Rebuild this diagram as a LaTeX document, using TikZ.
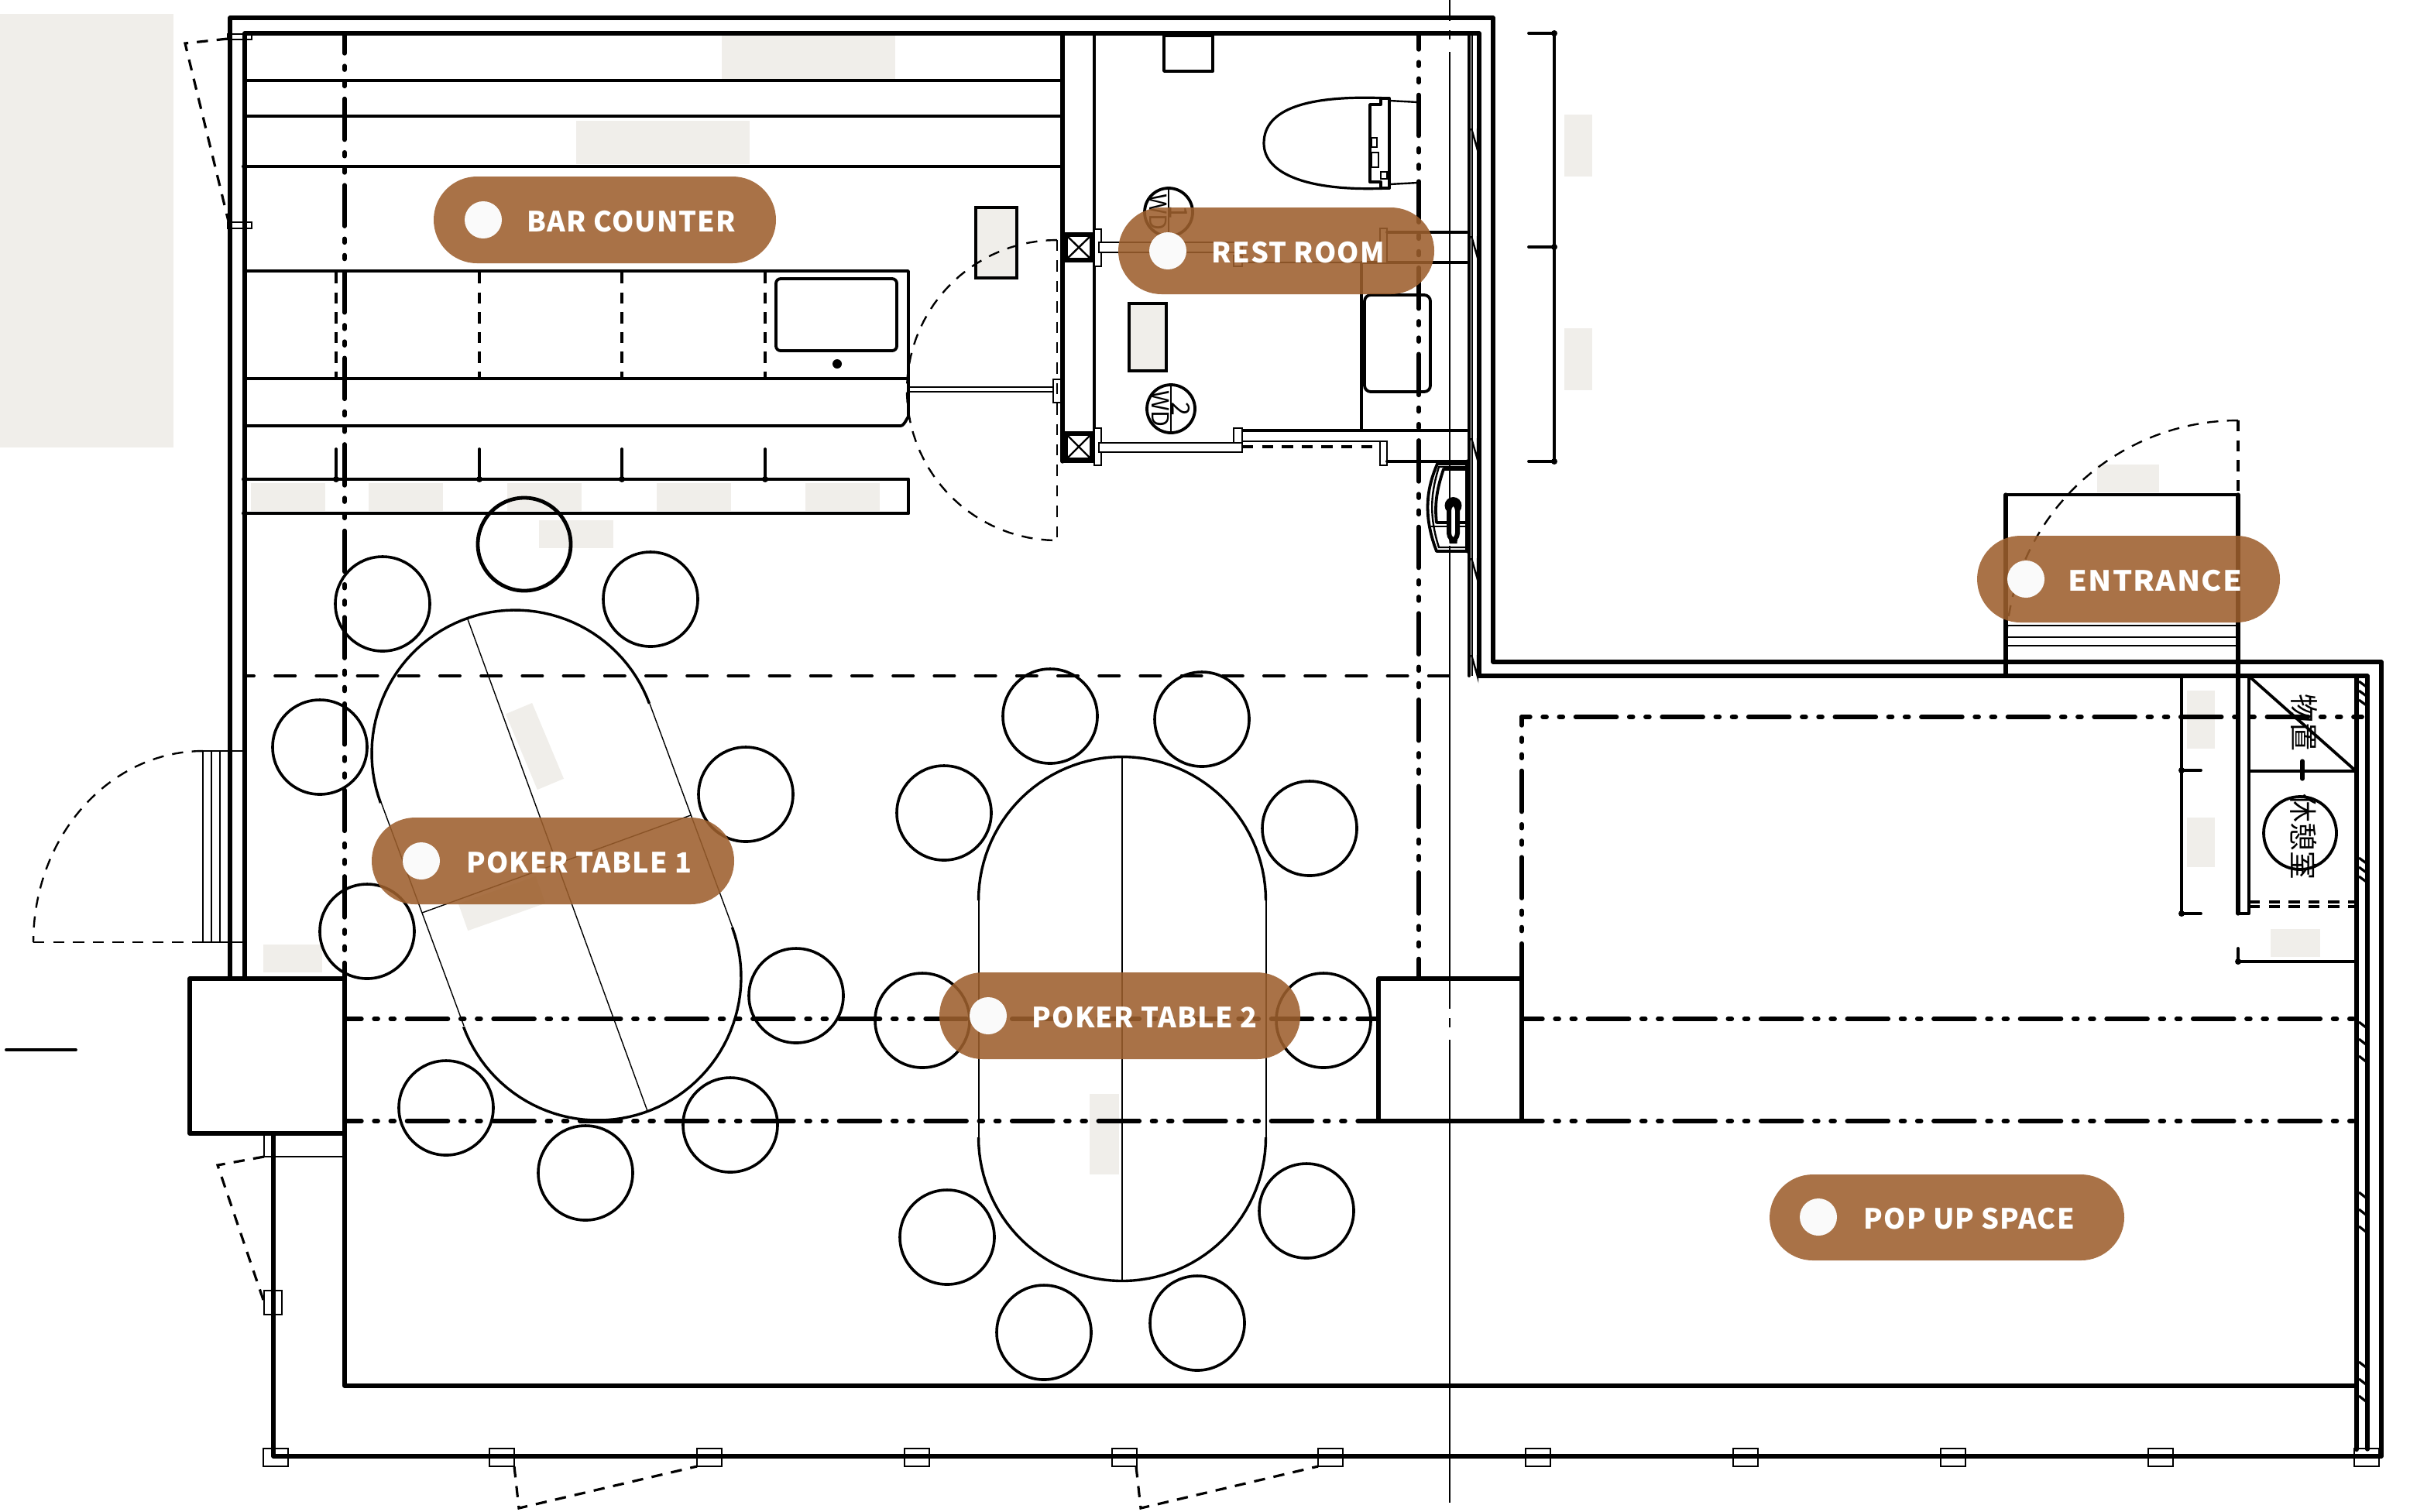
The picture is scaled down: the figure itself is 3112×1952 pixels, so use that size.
\documentclass[tikz,border=0pt]{standalone}
\usepackage{fontspec}
\setmainfont{Noto Sans}
\newfontfamily\lab[LetterSpace=3]{Noto Sans CJK JP}
\newfontfamily\cjk{Noto Sans CJK JP}
\definecolor{beige}{HTML}{F0EEEA}
\definecolor{pillc}{HTML}{9D5F2D}
\definecolor{dotc}{HTML}{FAFAFA}
\tikzset{
 wall/.style={line width=1.3pt,line cap=round,line join=round},
 med/.style={line width=.95pt,line cap=round,line join=round},
 thinl/.style={line width=.6pt},
 hair/.style={line width=.35pt},
 ddot/.style={line width=1.45pt,line cap=round,dash pattern=on 13.2pt off 4.1pt on 1.2pt off 4.1pt on 1.2pt off 4.1pt},
 dashl/.style={line width=.55pt,dash pattern=on 3.6pt off 3pt},
 dashm/.style={line width=.8pt,dash pattern=on 3.6pt off 2.8pt},
 hdash/.style={line width=1pt,line cap=round,dash pattern=on 6.5pt off 6.8pt,dash phase=3.5pt},
 centre/.style={line width=.3pt,dash pattern=on 149.5pt off 3pt on 3pt off 4pt,dash phase=142.75pt},
 chair/.style={line width=.9pt},
 bg/.style={fill=beige,draw=none},
 post/.style={line width=.6pt,draw=black,fill=white},
 pillbody/.style={fill=pillc,fill opacity=.88,rounded corners=13.99pt},
 pilltext/.style={text=white,font=\lab\bfseries\fontsize{9}{11}\selectfont,anchor=base west,inner sep=0pt},
 cjktext/.style={font=\cjk\fontsize{9.2}{10}\selectfont,rotate=-90,inner sep=0pt},
}
\newcommand{\pill}[9]{%
 \fill[pillbody] (#1,#2) rectangle (#3,#4);
 \fill[dotc] (#5,#6) circle (24);
 \node[pilltext] (#9) at (#7,#6+15) {#8};}
\begin{document}
\begin{tikzpicture}[x=.25pt,y=-.25pt]
\useasboundingbox (0,0) rectangle (3112,1952);
% beige patches
\fill[bg] (0,18) rectangle (224,578);
\fill[bg] (932,42) rectangle (1156,102);
\fill[bg] (744,156) rectangle (968,212);
\fill[bg] (324,624) rectangle (420,660);
\fill[bg] (476,624) rectangle (572,660);
\fill[bg] (655,624) rectangle (751,660);
\fill[bg] (848,624) rectangle (944,660);
\fill[bg] (1040,624) rectangle (1136,660);
\fill[bg] (696,672) rectangle (792,708);
\fill[bg] (2020,148) rectangle (2056,228);
\fill[bg] (2020,424) rectangle (2056,504);
\fill[bg] (2708,600) rectangle (2788,636);
\fill[bg] (2824,892) rectangle (2860,967);
\fill[bg] (2824,1056) rectangle (2860,1120);
\fill[bg] (2932,1200) rectangle (2996,1236);
\fill[bg] (340,1220) rectangle (416,1256);
\fill[bg] (1407,1413) rectangle (1445,1517);
\fill[bg,shift={(690.5,964)},rotate=22.7] (-18.5,-53) rectangle (18.5,53);
\fill[bg,shift={(648,1167)},rotate=19.5] (-53,-18.5) rectangle (53,18.5);
% centre line
\draw[centre] (1872,0) -- (1872,1952);
% outer walls
\draw[wall] (297,1264) -- (297,23) -- (1928,23) -- (1928,855) -- (3075,855) -- (3075,1881) -- (353,1881) -- (353,1464);
\draw[wall] (316,1264) -- (316,43) -- (1910,43) -- (1910,873) -- (3057,873) -- (3057,1872);
\draw[wall,line width=1.6pt] (3043,873) -- (3043,1872);
\draw[med] (1897,43) -- (1897,873);
\draw[thinl] (1901,43) -- (1901,873);
% bar lines
\foreach \y in {104,150,215} \draw[med] (316,\y) -- (1372,\y);
\draw[med] (316,350) -- (1173,350) -- (1173,540) to[out=90,in=0] (1163,550) -- (316,550);
\draw[med] (316,489) -- (1173,489);
\draw[med] (316,619) -- (1173,619);
\draw[med] (316,663) -- (1173,663);
\draw[med] (1173,619) -- (1173,663);
\foreach \x in {434,619,803,988} {
  \draw[dashm,line width=1pt] (\x,352) -- (\x,489);
  \draw[med] (\x,580) -- (\x,619);
  \fill (\x,619) circle (4);
}
\fill (316,215) circle (4);
\fill (316,619) circle (4);
\fill (316,663) circle (4);
\draw[med,rounded corners=1.5pt] (1002,360) rectangle (1158,453);
\fill (1081,470) circle (6);
% small door top left
\draw[thinl] (294,44) rectangle (325,51);
\draw[thinl] (294,287) rectangle (325,295);
\draw[dashm] (294,50) -- (239,56) -- (296,290);
% bar door
\draw[thinl,fill=beige,line width=.8pt] (1260,268) rectangle (1313,359);
\draw[thinl] (1173,500) -- (1362,500);
\draw[thinl] (1173,506) -- (1362,506);
\draw[post] (1360,490) rectangle (1370,520);
\draw[dashl] (1365,310) -- (1365,698);
\draw[dashm,line width=.6pt,domain=-90:90,samples=50] plot ({1365-194*cos(\x)},{504+194*sin(\x)});
% partition
\draw[wall] (1372,43) -- (1372,596);
\draw[med] (1413,43) -- (1413,596);
\draw[med] (1372,596) -- (1413,596);
\foreach \y/\h in {303/33,560/34} {
  \draw[wall,line join=miter] (1376,\y) rectangle (1410,\y+\h);
  \draw[thinl] (1376,\y) -- (1410,\y+\h) (1376,\y+\h) -- (1410,\y);
}
\draw[post] (1413,296) rectangle (1422,344);
\draw[post] (1413,553) rectangle (1422,601);
% rest room
\draw[med] (1503,46) rectangle (1566,92);
\draw[line width=.8pt] (1794,127) .. controls (1690,122) and (1632,140) .. (1632,185) .. controls (1632,225) and (1690,248) .. (1794,243);
\draw[thinl] (1794,130) -- (1831,132) (1794,238) -- (1831,236);
\draw[med] (1769,135) -- (1783,135) -- (1783,127) -- (1794,127) -- (1794,243) -- (1783,243) -- (1783,235) -- (1769,235) -- cycle;
\draw[thinl] (1771,178) rectangle (1778,190) (1771,197) rectangle (1780,216) (1783,222) rectangle (1791,231);
\foreach \c/\n in {(1509,274)/1,(1512,528)/2} {
  \draw[med] \c circle (31);
  \draw[thinl] \c ++(0,-31) -- ++(0,62);
  \path \c ++(-13,0) node[cjktext,font=\cjk\fontsize{7.6}{8}\selectfont] {WD};
  \path \c ++(13,0) node[cjktext,font=\cjk\fontsize{8}{8}\selectfont] {\n};
}
\draw[thinl,fill=beige,line width=.9pt] (1458,392) rectangle (1506,479);
\draw[med,rounded corners=2pt] (1762,381) rectangle (1847,506);
\draw[med] (1758,339) -- (1758,556);
\draw[med] (1604,556) -- (1894,556);
\draw[thinl] (1604,570) -- (1782,570);
\draw[dashm] (1604,577) -- (1782,577);
\draw[post] (1419,572) rectangle (1604,584);
\draw[post] (1593,553) rectangle (1604,572);
\draw[post] (1782,570) rectangle (1791,601);
\draw[med] (1791,596) -- (1894,596);
\draw[post] (1419,313) rectangle (1604,326);
\draw[thinl] (1593,330) rectangle (1604,344);
\draw[thinl] (1604,339) -- (1758,339);
\draw[med] (1759,339) -- (1894,339);
\draw[post] (1782,295) rectangle (1791,340);
\draw[med] (1791,300) -- (1894,300);
% z marks on wall
\foreach \y in {180,319,580,735,860} \draw[thinl] (1900,\y-14) -- (1908,\y+14) -- (1908,\y-14);
% basin
\draw[med] (1895,599) -- (1856,599) .. controls (1845,625) and (1835,660) .. (1855,712) -- (1895,712);
\draw[thinl] (1892,603) -- (1858,603) .. controls (1850,630) and (1843,660) .. (1858,707) -- (1892,707);
\draw[med] (1892,606) -- (1864,606) .. controls (1856,630) and (1852,650) .. (1855,675) -- (1892,675);
\draw[thinl] (1848,680) -- (1892,680);
\fill (1876.5,653) circle (11);
\draw[line width=1.5pt,fill=white,rounded corners=2.6pt] (1871,649) rectangle (1882,699);
\draw[wall] (1895,596) -- (1895,712);
% dimension
\draw[med] (2007,43) -- (2007,596);
\foreach \y in {43,319,596} { \draw[med] (1974,\y) -- (2007,\y); \fill (2007,\y) circle (4);}
% long dash-dot
\draw[ddot,dash phase=6.75pt] (445,43) -- (445,1264);
\draw[ddot,dash phase=8pt] (1832,43) -- (1832,1264);
\draw[hdash] (316,873) -- (1895,873);
\draw[ddot,dash phase=10.5pt] (1965,926) -- (3050,926);
\draw[ddot,dash phase=10.5pt] (1965,926) -- (1965,1264);
\draw[ddot,dash phase=6.5pt] (1780,1316) -- (445,1316);
\draw[ddot,dash phase=6.5pt] (1780,1448) -- (445,1448);
\draw[ddot,dash phase=6.5pt] (1965,1316) -- (3050,1316);
\draw[ddot,dash phase=6.5pt] (1965,1448) -- (3050,1448);
% boxes
\draw[wall] (245,1264) rectangle (445,1464);
\draw[wall] (445,1464) -- (445,1790) -- (3043,1790);
\draw[wall] (1780,1264) rectangle (1965,1448);
\draw[med] (8,1356) -- (98,1356);
% window left
\draw[thinl] (262,970) rectangle (315,1217);
\draw[thinl] (273,970) -- (273,1217) (284,970) -- (284,1217);
\draw[dashm,line width=.6pt,domain=0:90,samples=40] plot ({262-219*sin(\x)},{1217-247*cos(\x)});
\draw[dashm,line width=.6pt] (43,1217) -- (262,1217);
% bottom left door
\draw[thinl] (341,1464) -- (341,1494) (341,1494) -- (445,1494);
\draw[dashm] (341,1494) -- (281,1505) -- (341,1682);
\draw[thinl] (341,1667) rectangle (364,1698);
% bottom columns
\foreach \x in {340,632,900,1168,1436,1702,1970,2238,2506,2774,3040} \draw[thinl] (\x,1871) rectangle (\x+32,1894);
\draw[dashm] (664,1894) -- (670,1948) -- (900,1894);
\draw[dashm] (1467,1894) -- (1473,1948) -- (1702,1894);
% hatch
\foreach \y in {1320,1342,1364,1540,1562,1584,1759,1781,1803} \draw[thinl,line width=.8pt] (3046,\y) -- (3055,\y+7);
\draw[thinl,line width=.8pt] (3046,880) -- (3057,888) (3046,892) -- (3057,900) (3046,904) -- (3057,912);
\draw[thinl,line width=.8pt] (3046,1108) -- (3057,1116) (3046,1120) -- (3057,1128) (3046,1132) -- (3057,1140);
% entrance
\draw[med] (2590,639) -- (2890,639);
\draw[wall] (2590,639) -- (2590,873) (2890,639) -- (2890,1180);
\foreach \y in {808,823,834} \draw[thinl] (2590,\y) -- (2890,\y);
\draw[dashm] (2890,543) -- (2890,639);
\draw[dashm,line width=.6pt,domain=0:90,samples=40] plot ({2890-300*sin(\x)},{843-300*cos(\x)});
% rooms right
\draw[med] (2817,873) -- (2817,1180);
\draw[med] (2817,995) -- (2842,995) (2817,1180) -- (2842,1180);
\fill (2817,995) circle (4); \fill (2817,1180) circle (4);
\draw[med] (2904,873) -- (2904,1180) -- (2890,1180);
\draw[med] (2907,876) -- (3040,994);
\draw[med] (2904,996) -- (3040,996);
\draw[wall] (2973,983) -- (2973,1006);
\draw[med] (2970,1076) circle (47);
\draw[dashm] (2904,1165) -- (3040,1165) (2904,1171) -- (3040,1171);
\draw[med] (2890,1225) -- (2890,1242) -- (3043,1242);
\fill (2890,1242) circle (4);
\node[cjktext] (store) at (2975,933) {物置};
\node[cjktext] (rest) at (2975,1081) {休憩室};
% poker table 1
\draw[hair] (604,800) -- (836,1435);
\draw[hair] (545,1179) -- (892,1053);
\draw[hair] (492,1036) -- (599,1325) (839,909) -- (946,1198);
\draw[line width=.85pt,domain=-200.3:-20.3,samples=60] plot ({665+185*cos(\x)},{973+185*sin(\x)});
\draw[line width=.85pt,domain=-20.3:159.7,samples=60] plot ({772+185*cos(\x)},{1262+185*sin(\x)});
\foreach \c in {(840,774),(494,780),(413,965),(963,1026),(1028,1286),(474,1203),(576,1431),(756,1515),(943,1453)} \draw[chair] \c circle (61);
\draw[line width=1.2pt] (677,703) circle (60);
% poker table 2
\draw[hair] (1449,978) -- (1449,1654);
\draw[hair] (1264,1163) -- (1264,1469) (1635,1163) -- (1635,1469);
\draw[line width=.85pt,domain=-180:0,samples=60] plot ({1449+185.5*cos(\x)},{1163+185.5*sin(\x)});
\draw[line width=.85pt,domain=0:180,samples=60] plot ({1449+185.5*cos(\x)},{1469+185.5*sin(\x)});
\foreach \c in {(1356,925),(1552,929),(1219,1050),(1691,1070),(1191,1318),(1709,1318),(1223,1598),(1687,1564),(1348,1721),(1546,1709)} \draw[chair] \c circle (61);
% pills
\pill{560}{228}{1002}{340}{624}{284}{680}{BAR COUNTER}{bar}
\pill{1444}{268}{1852}{380}{1508}{324}{1564}{REST ROOM}{restroom}
\pill{2553}{692}{2944}{804}{2616}{748}{2670}{\scalebox{1.1}[1]{ENTRANCE}}{entrance}
\pill{480}{1056}{948}{1168}{544}{1112}{602}{POKER TABLE 1}{table1}
\pill{1213}{1256}{1679}{1368}{1276}{1312}{1332}{POKER TABLE 2}{table2}
\pill{2285}{1517}{2743}{1628}{2348}{1572}{2406}{POP UP SPACE}{popup}
\end{tikzpicture}
\end{document}
